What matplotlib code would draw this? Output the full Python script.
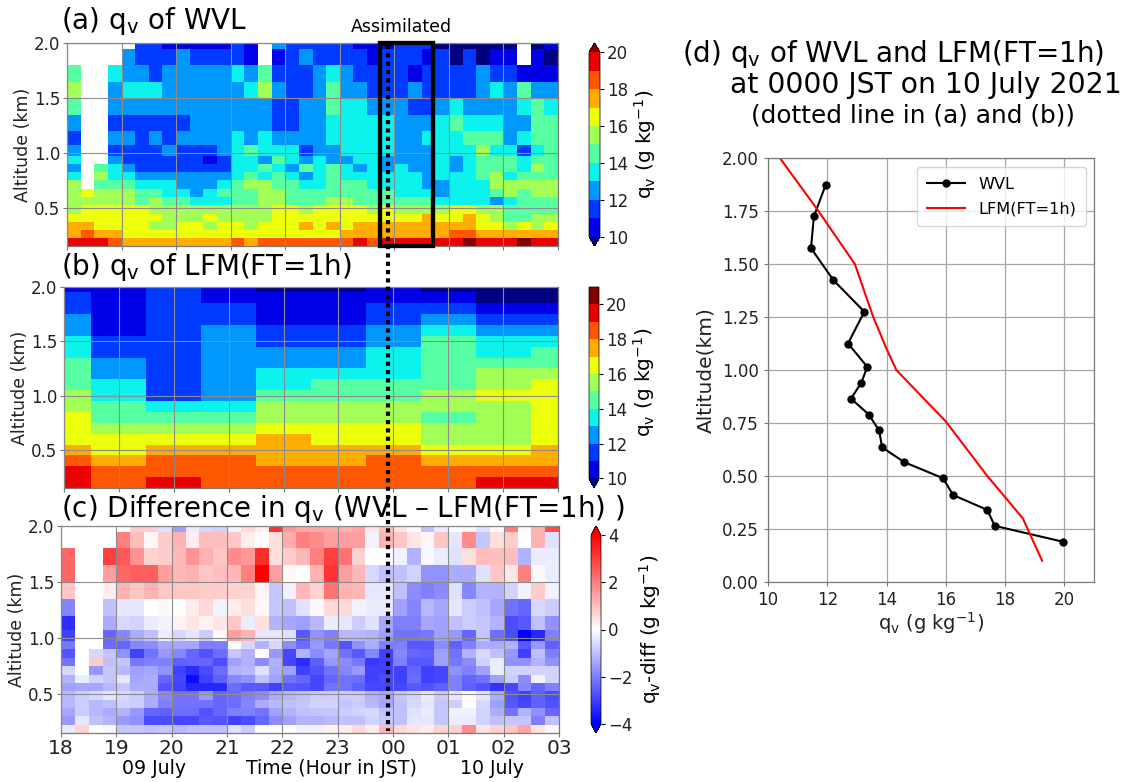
#!/usr/bin/env python3
"""Water vapour mixing ratio: WVL vs LFM(FT=1h), time-height sections and one profile."""

import numpy as np
import matplotlib
matplotlib.use("Agg")
import matplotlib.pyplot as plt
from matplotlib.colors import BoundaryNorm
from matplotlib.lines import Line2D
from matplotlib.patches import Rectangle

n = np.nan

FIG_W, FIG_H = 1129, 782

# hours after 1800 JST on 09 July
HOUR_TICKS = [0, 1, 2, 3, 4, 5, 6, 7, 8, 9]
HOUR_LABELS = ["18", "19", "20", "21", "22", "23", "00", "01", "02", "03"]
WVL_TIMES = [0.125 + 0.25 * k for k in range(36)]
LFM_TIMES = [0, 1, 2, 3, 4, 5, 6, 7, 8, 9]

WVL_ALT = [0.19, 0.265, 0.34, 0.41, 0.49, 0.565, 0.635, 0.715, 0.79, 0.865, 0.94,
           1.015, 1.125, 1.275, 1.425, 1.575, 1.725, 1.875, 2.025]
LFM_ALT = [0.2, 0.3, 0.4, 0.5, 0.6, 0.7, 0.8, 0.9, 1.0, 1.1, 1.2, 1.3, 1.4, 1.5,
           1.6, 1.7, 1.8, 1.9, 2.0]

# (a) WVL qv, lower edge of the colour bin read per cell, rows bottom to top
WVL_QV = [
    [19,19,19,18,17,17,17,17,17,17,17,17,18,17,18,18,18,18,18,18,18,19,18,19,19,19,19,19,19,20,19,19,19,20,19,19],
    [17,18,17,17,16,16,16,16,16,16,16,16,16,16,16,16,16,16,16,16,17,17,17,17,17,17,17,17,18,18,17,17,17,17,17,17],
    [17,17,16,16,16,16,15,15,16,16,15,16,16,15,16,16,16,17,16,17,16,17,17,17,17,17,17,17,17,17,16,16,15,16,15,16],
    [16,16,16,16,16,16,16,15,15,15,16,15,15,15,15,16,16,16,16,16,16,16,16,16,16,16,17,16,16,17,16,15,14,14,15,15],
    [15,16,16,16,16,16,15,15,15,15,15,15,15,15,15,16,16,15,16,16,16,16,15,16,15,15,15,15,16,16,15,15,14,14,14,14],
    [15,15,15,15,15,14,15,14,14,13,13,13,14,14,15,15,14,14,14,15,15,14,14,14,14,14,14,13,13,13,13,12,13,14,14,14],
    [15,16,15,15,15,14,14,13,13,12,13,14,14,14,15,15,14,14,14,14,14,14,14,14,13,13,13,12,13,13,13,14,15,14,15,15],
    [15,n,14,14,14,13,13,13,12,12,12,13,14,15,15,14,14,13,13,14,14,14,13,13,13,13,12,12,13,13,13,15,15,15,15,15],
    [13,n,15,13,13,12,12,12,12,12,12,12,13,14,13,14,13,12,13,14,13,13,13,13,13,13,12,13,13,13,14,15,13,14,14,14],
    [12,n,14,13,12,11,11,11,11,11,11,11,13,13,14,13,12,14,13,14,13,12,13,12,13,12,12,13,12,13,14,14,14,13,15,14],
    [13,n,n,12,11,11,11,11,11,11,10,11,13,13,12,14,13,12,13,12,12,13,13,12,12,12,12,13,12,13,14,14,14,13,14,14],
    [12,n,n,11,11,11,11,12,11,11,11,12,13,14,13,13,13,11,12,12,13,13,13,13,12,12,12,13,13,13,15,13,13,11,13,14],
    [11,n,n,12,12,11,12,11,12,12,12,12,13,12,13,12,12,12,12,13,13,13,13,13,12,12,13,13,13,14,14,14,12,13,14,14],
    [12,n,n,11,11,11,11,11,11,12,12,12,12,12,12,11,11,12,12,13,13,13,13,13,12,12,12,13,14,13,13,13,12,12,14,14],
    [14,n,n,12,12,12,12,12,12,12,12,12,12,12,12,11,11,12,12,14,13,13,12,12,12,11,11,12,13,12,12,12,12,13,14,13],
    [15,n,n,12,13,13,13,12,12,12,12,12,12,13,15,12,11,11,12,14,12,12,11,11,11,12,11,11,11,11,12,13,12,14,12,12],
    [14,n,n,13,12,12,11,12,12,12,12,12,13,12,14,11,11,11,12,13,12,11,11,11,11,10,11,11,11,11,12,11,11,10,10,10],
    [n,n,n,n,12,11,11,11,12,11,11,11,11,10,n,10,11,12,11,11,11,11,10,11,11,11,10,11,9,11,9,10,10,n,10,9],
    [n,n,n,n,n,11,11,10,10,10,10,10,11,10,n,12,11,11,11,11,11,10,10,10,11,11,11,9,9,9,9,9,9,n,9,10],
]

# (b) LFM qv, one list per hour, bottom to top
LFM_QV_BY_HOUR = [
    [19,19,18,17,16,16,16,15,15,14,14,14,13,13,12,12,11,11,10],
    [18,18,17,16,16,15,14,14,13,13,12,12,11,11,10,10,10,10,10],
    [19,18,18,17,16,15,14,13,11,11,11,11,11,11,11,11,11,11,11],
    [18,18,18,17,16,15,14,13,12,12,12,12,12,12,12,11,11,10,10],
    [18,18,17,17,17,16,15,15,14,13,13,12,12,11,11,10,10,10,9],
    [18,18,17,17,16,16,15,15,14,14,13,12,12,11,11,10,10,10,9],
    [18,18,18,17,16,16,15,15,14,14,13,13,13,12,12,11,11,10,10],
    [18,18,17,16,15,15,14,15,15,14,14,14,14,14,13,12,11,10,9],
    [19,18,17,16,15,15,15,15,16,15,15,14,13,13,12,11,10,9,9],
    [19,18,17,17,16,16,16,16,16,16,15,14,14,13,12,11,10,9,9],
]

# (c) WVL - LFM, rows bottom to top
DIFF_QV = [
    [-.3,.7,0,-.1,-.9,-.9,-1,-.9,-1.1,-1,-1,-1,-.5,-.8,0,0,0,-.2,-.2,.2,.3,.6,.3,1.1,.6,.4,.3,.7,.7,1.8,.4,.7,.9,1.4,.4,.1],
    [-1.6,-.4,-1,-1.2,-1.6,-1.7,-2.8,-2.8,-2.9,-2.9,-2.6,-2.7,-3,-2.8,-2.4,-1.8,-1.5,-1.2,-1.2,-1.1,-1,-1,-.7,-.9,-1,-.4,-.4,-.9,-.3,-.3,-.7,-1,-.9,-.9,-2,-1],
    [-1.4,-.8,-1.1,-1.3,-1.2,-1.6,-2.4,-2.5,-2.3,-2.3,-2.7,-2.4,-2,-2,-2.2,-1.5,-1.2,-1,-.9,-.9,-.8,-.7,-.6,-1,-1,-.5,-.3,-.9,-.2,-.2,-.7,-1.3,-2.2,-1.2,-1.7,-2.4],
    [-1.1,-.8,-1.1,-1,-.7,-.8,-1.3,-2,-2.2,-2.2,-2.2,-2.4,-2.3,-1.9,-1.3,-1.1,-1,-.9,-.7,-.7,-.9,-.8,-1.1,-1.4,-1,-.6,-.4,-.9,-.8,0,-.6,-1.5,-2.6,-2.9,-2.5,-2.7],
    [-1.1,-.8,-.6,-.4,-.6,-.8,-1.3,-1.9,-2.2,-2.2,-1.6,-2.4,-2.3,-2,-1.8,-1.3,-1.1,-1,-.8,-.8,-.8,-.8,-1.2,-1.4,-.9,-.7,-.3,-.8,-.4,0,-.4,-1.3,-2.7,-3,-2.5,-2.8],
    [-1.5,-1.4,-1.4,-1.1,-.9,-1.3,-1.3,-2.7,-3,-3.4,-3.4,-3.4,-2.3,-2.6,-2.6,-3,-2.6,-2.7,-2.9,-2.2,-2.2,-2.5,-2.9,-2.9,-2.9,-2.6,-2.7,-2.5,-2,-2.5,-2.7,-3.2,-2.9,-1.9,-2.4,-2],
    [-1.2,-.3,-.7,-.9,-.4,-1.4,-1.3,-2.4,-2.9,-3.8,-3,-2.5,-1.9,-1.7,-1,-1.5,-2.2,-2.4,-2.9,-2.4,-2.2,-2.3,-3,-2.8,-3,-2.3,-3,-2.9,-2,-2.4,-2.2,-1.5,-.8,-1.8,-.2,-.7],
    [-.6,n,-1.6,-.9,-1.1,-1.5,-1.4,-1.7,-3,-3.3,-2.8,-2.3,-1.2,-1.1,-.5,-1.3,-1.5,-3,-2.7,-2.2,-1.9,-1.6,-3,-3,-3,-2.4,-3,-2.9,-1.7,-2,-1.5,-.3,-.7,-.7,-.7,-.7],
    [-2.2,n,.8,-1,-.9,-2.1,-2,-2,-2.5,-2.4,-2.4,-2.8,-1.5,-1.2,-1.8,-1.2,-2.9,-3.3,-2.5,-1.6,-1.8,-2.1,-3.1,-3,-2,-2.6,-2.6,-1.5,-2.1,-1.8,-.7,-.3,-1.7,-1.7,-1.2,-1.7],
    [-2.7,n,-.6,-.9,-1.7,-3,-2.2,-1.6,-1.9,-2.4,-2.7,-2.3,-.9,-1.2,0,-1.6,-2.9,-1.2,-1.8,-1.4,-2.2,-2.6,-1.9,-3,-1.9,-2.4,-2.5,-1.5,-2.2,-1.2,-.6,-1,-1.6,-3,-1,-2],
    [-2.1,n,n,-2.3,-2.4,-1.9,-1.8,-1.4,-1.4,-1.4,-2,-2,0,-.6,-1.2,-.6,-1.8,-2.3,-1.6,-2.1,-2.7,-1.7,-1.3,-2,-2,-2.6,-2.6,-1.8,-2.5,-2,-1.3,-1.3,-1.2,-2.6,-1.6,-2.5],
    [-3,n,n,-2.4,-1.9,-1.3,-1,-.3,-.6,-.4,-.8,.1,1.5,1.2,-.4,-.4,-.5,-2.6,-1.7,-2,-1.1,-1.1,-1.2,-1.5,-2.2,-2.2,-2.1,-1.5,-1.6,-2.4,-.9,-2.3,-2.8,-4,-3.4,-2],
    [-3.3,n,n,-1.3,-.6,-.7,-.3,-.2,.2,.4,.2,.4,.9,-.3,.5,-1.2,-1.4,-1.5,-1.1,-.3,-.4,-.8,-.5,-1.4,-2,-2,-1.4,-1.5,-1,-.8,-.9,-1.2,-2.8,-2.6,-1,-1.7],
    [-1.9,n,n,-1,-.4,-.4,0,.1,0,.3,.6,-.2,.3,.5,.1,-.9,-1,-.5,.1,.6,.6,-.2,-.3,-.3,-1.5,-1.9,-1.1,-1.4,-.4,-.8,-1,-1.4,-2.2,-2.4,-.6,-.8],
    [.9,n,n,.3,1.2,.9,1.2,.9,.9,.9,.8,.8,.7,.7,.2,-.9,-.2,1.1,.7,2.2,1.2,1.1,-.4,-.4,-1,-1.8,-2,-1.8,-.5,-1.9,-1.2,-1.2,-.7,-.2,.8,-.2],
    [2.4,n,n,1.5,2.4,2.5,2.5,1.5,1.1,1.2,.9,1,1.1,2,4,1.5,.1,0,1.2,3.2,1.5,1.1,-.6,-1,-1,-.7,-1.7,-1.7,-1.3,-1.3,-.5,.9,.4,2,.1,-.3],
    [2.4,n,n,3,2.6,1.7,.7,.8,1.1,1.7,1.2,.9,1.8,1.6,3.3,.5,.8,1.1,2,3,2.2,.7,0,0,-.2,-1.2,-.1,-.3,-.5,.5,1,1,1,-1.2,-.3,-.3],
    [n,n,n,n,2,1,.1,.8,1.2,.3,1,1,.9,.3,0,.5,1.3,2,1.8,1.5,1.5,1.5,-.2,1.2,.9,.4,.1,.9,-.4,1.8,-.9,.5,.8,0,1.2,-.5],
    [n,n,n,n,n,.8,.8,-.5,-1.5,-.3,-.6,-.7,-.2,.6,.3,3.2,1.6,1.4,1.4,1.4,1.2,1.4,.4,1,.4,.1,-1,-.3,0,.1,-.5,.1,2,.1,1.2,2.8],
]

# (d) profiles at 0000 JST
PROFILE_WVL_QV = [19.95, 17.65, 17.4, 16.25, 15.9, 14.6, 13.85, 13.75, 13.4, 12.8, 13.15,
                  13.35, 12.7, 13.25, 12.2, 11.45, 11.55, 11.95]
PROFILE_WVL_ALT = WVL_ALT[:-1]
PROFILE_LFM_QV = [19.25, 18.6, 17.4, 16.0, 14.33, 14.0, 13.55, 12.93, 11.65, 10.4]
PROFILE_LFM_ALT = [0.1, 0.3, 0.5, 0.757, 1.0, 1.1, 1.25, 1.5, 1.76, 2.0]

ASSIM_START, ASSIM_END = 5.74, 6.71

plt.rcParams["font.family"] = "DejaVu Sans"
plt.rcParams["mathtext.default"] = "regular"

GRID_COLOR = "#8c8c8c"
SPINE_COLOR = "#7a7a7a"
TEXT_COLOR = "#222222"


def add_axes_px(fig, left, top, right, bottom):
    return fig.add_axes([left / FIG_W, 1 - bottom / FIG_H,
                         (right - left) / FIG_W, (bottom - top) / FIG_H])


def text_px(fig, x, y, s, **kw):
    kw.setdefault("va", "center")
    kw.setdefault("color", "black")
    return fig.text(x / FIG_W, 1 - y / FIG_H, s, **kw)


def style_section(ax, ylim_low):
    ax.set_xlim(0, 9)
    ax.set_ylim(ylim_low, 2.0)
    ax.set_xticks(HOUR_TICKS)
    ax.set_yticks([0.5, 1.0, 1.5, 2.0])
    ax.set_yticklabels(["0.5", "1.0", "1.5", "2.0"])
    ax.tick_params(axis="y", labelsize=12, length=3, pad=2, color=SPINE_COLOR, labelcolor=TEXT_COLOR)
    ax.tick_params(axis="x", length=3, color=SPINE_COLOR, labelbottom=False)
    ax.grid(True, color=GRID_COLOR, lw=0.8)
    ax.set_axisbelow(False)
    ax.set_ylabel("Altitude (km)", fontsize=12.5, labelpad=1, color=TEXT_COLOR)
    for s in ax.spines.values():
        s.set_color(SPINE_COLOR)
        s.set_linewidth(0.9)


def add_colorbar(fig, mesh, left, top, right, bottom, ticks, label, extend):
    cax = add_axes_px(fig, left, top, right, bottom)
    cb = fig.colorbar(mesh, cax=cax, extend=extend, spacing="proportional")
    cb.set_ticks(ticks)
    cb.ax.minorticks_off()
    cb.ax.tick_params(labelsize=12, length=3, pad=2, labelcolor=TEXT_COLOR)
    cb.set_label(label, fontsize=14.5, labelpad=3)
    cb.outline.set_linewidth(0.5)
    return cb


fig = plt.figure(figsize=(FIG_W / 100, FIG_H / 100), dpi=100)

# (a)
levels_a = np.arange(10, 21)
cmap_a = plt.get_cmap("jet", len(levels_a) + 1).copy()
norm_a = BoundaryNorm(levels_a, cmap_a.N, extend="both")
ax_a = add_axes_px(fig, 67, 43, 558, 246)
mesh_a = ax_a.pcolormesh(WVL_TIMES, WVL_ALT, np.array(WVL_QV, dtype=float), cmap=cmap_a, norm=norm_a, shading="nearest")
style_section(ax_a, 0.155)
ax_a.add_patch(Rectangle((ASSIM_START, 0.155), ASSIM_END - ASSIM_START, 1.845, fill=False,
                         edgecolor="black", lw=3.1, clip_on=False, zorder=6))
add_colorbar(fig, mesh_a, 589, 43, 600, 246, [10, 12, 14, 16, 18, 20], "q$_v$ (g kg$^{-1}$)", "both")

# (b)
levels_b = np.arange(10, 22)
cmap_b = plt.get_cmap("jet", len(levels_b)).copy()
norm_b = BoundaryNorm(levels_b, cmap_b.N, extend="min")
ax_b = add_axes_px(fig, 64, 287, 558, 488)
mesh_b = ax_b.pcolormesh(LFM_TIMES, LFM_ALT, np.array(LFM_QV_BY_HOUR, dtype=float).T, cmap=cmap_b, norm=norm_b, shading="nearest")
style_section(ax_b, 0.15)
add_colorbar(fig, mesh_b, 589, 287, 599, 488, [10, 12, 14, 16, 18, 20], "q$_v$ (g kg$^{-1}$)", "min")

# (c)
ax_c = add_axes_px(fig, 61, 526, 559, 733)
mesh_c = ax_c.pcolormesh(WVL_TIMES, WVL_ALT, np.array(DIFF_QV, dtype=float), cmap="bwr", vmin=-4, vmax=4, shading="nearest")
style_section(ax_c, 0.155)
ax_c.set_xticklabels(HOUR_LABELS)
ax_c.tick_params(axis="x", labelbottom=True, labelsize=14.5, pad=1, labelcolor=TEXT_COLOR)
add_colorbar(fig, mesh_c, 591, 526, 601, 733, [-4, -2, 0, 2, 4], "q$_v$-diff (g kg$^{-1}$)", "both")

# (d)
ax_d = add_axes_px(fig, 768, 158, 1094, 582)
ax_d.plot(PROFILE_WVL_QV, PROFILE_WVL_ALT, color="black", marker="o", ms=5, lw=1.5, label="WVL")
ax_d.plot(PROFILE_LFM_QV, PROFILE_LFM_ALT, color="red", lw=1.5, label="LFM(FT=1h)")
ax_d.set_xlim(10, 21)
ax_d.set_ylim(0, 2)
ax_d.set_xticks([10, 12, 14, 16, 18, 20])
ax_d.set_yticks([0, 0.25, 0.5, 0.75, 1.0, 1.25, 1.5, 1.75, 2.0])
ax_d.set_yticklabels(["0.00", "0.25", "0.50", "0.75", "1.00", "1.25", "1.50", "1.75", "2.00"])
ax_d.tick_params(labelsize=12, length=3, color=SPINE_COLOR, labelcolor=TEXT_COLOR)
ax_d.grid(True, color="#a6a6a6", lw=0.9)
ax_d.set_xlabel("q$_v$ (g kg$^{-1}$)", fontsize=14, labelpad=1, color=TEXT_COLOR)
ax_d.set_ylabel("Altitude(km)", fontsize=14.5, labelpad=5, color=TEXT_COLOR)
for s in ax_d.spines.values():
    s.set_color(SPINE_COLOR)
    s.set_linewidth(0.9)
ax_d.legend(loc="upper left", bbox_to_anchor=(0.457, 0.979), fontsize=11.6, handlelength=2.4,
            borderpad=0.6, labelspacing=0.6, borderaxespad=0)

# vertical dotted line through (a), (b), (c)
fig.add_artist(Line2D([388 / FIG_W, 388 / FIG_W], [1 - 45 / FIG_H, 1 - 731 / FIG_H], color="black",
                      lw=3.0, linestyle=(0, (1, 1)), zorder=10))

# panel titles and labels
text_px(fig, 61, 21, "(a) q$_v$ of WVL", fontsize=20)
text_px(fig, 401, 27, "Assimilated", fontsize=12.5, ha="center")
text_px(fig, 61, 267, "(b) q$_v$ of LFM(FT=1h)", fontsize=20)
text_px(fig, 61, 509, "(c) Difference in q$_v$ (WVL \u2013 LFM(FT=1h) )", fontsize=20)
text_px(fig, 154, 769, "09 July", fontsize=13.6, ha="center")
text_px(fig, 331, 769, "Time (Hour in JST)", fontsize=13.6, ha="center")
text_px(fig, 492, 769, "10 July", fontsize=13.6, ha="center")
text_px(fig, 682, 54, "(d) q$_v$ of WVL and LFM(FT=1h)", fontsize=20)
text_px(fig, 730, 85, "at 0000 JST on 10 July 2021", fontsize=20.3)
text_px(fig, 751, 116, "(dotted line in (a) and (b))", fontsize=17.8)

fig.savefig("out.png", dpi=100)
